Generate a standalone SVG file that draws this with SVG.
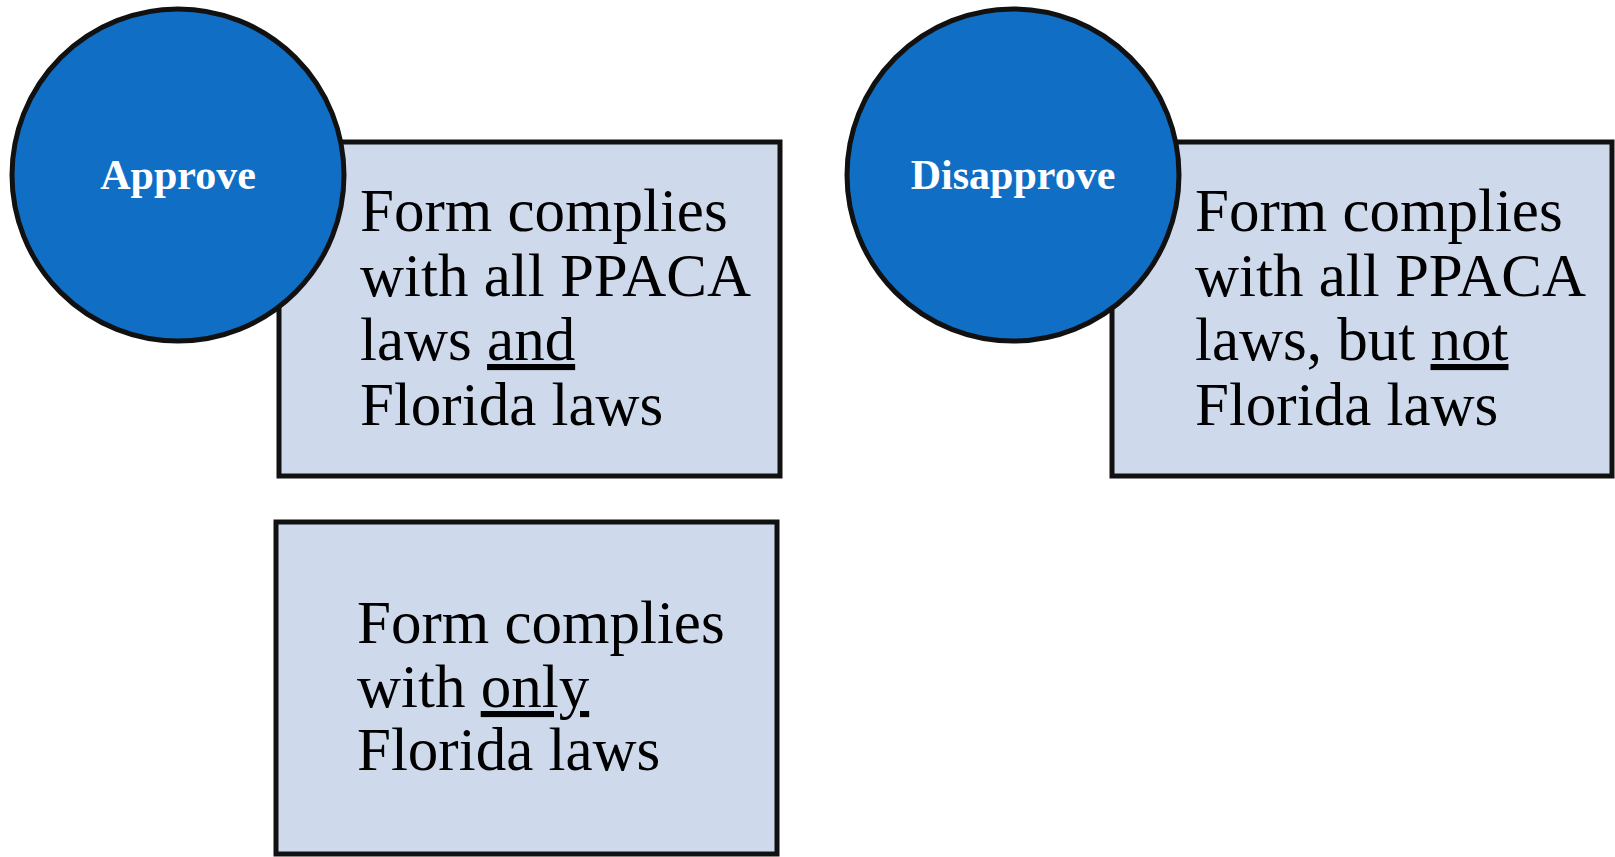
<svg xmlns="http://www.w3.org/2000/svg" width="1615" height="857" viewBox="0 0 1615 857">
<style>
.box{fill:#CFD9EC;stroke:#111;stroke-width:5;}
.circ{fill:#106EC5;stroke:#111;stroke-width:5;}
.lbl{font-family:"Liberation Serif","Times New Roman",serif;font-weight:bold;font-size:42px;fill:#fff;text-anchor:middle;}
.body{font-family:"Liberation Serif","Times New Roman",serif;font-size:61px;fill:#000;}
.u{text-decoration:underline;}
</style>
<rect width="1615" height="857" fill="#fff"/>
<g id="box-approve">
<rect class="box" x="279" y="142" width="501" height="334"/>
<text class="body" x="360" y="231">Form complies</text>
<text class="body" x="360" y="296">with all PPACA</text>
<text class="body" x="360" y="360">laws <tspan class="u">and</tspan></text>
<text class="body" x="360" y="425">Florida laws</text>
</g>
<g id="circle-approve">
<circle class="circ" cx="178" cy="175" r="166"/>
<text class="lbl" x="178" y="189">Approve</text>
</g>
<g id="box-disapprove">
<rect class="box" x="1112" y="142" width="500" height="334"/>
<text class="body" x="1195" y="231">Form complies</text>
<text class="body" x="1195" y="296">with all PPACA</text>
<text class="body" x="1195" y="360">laws, but <tspan class="u">not</tspan></text>
<text class="body" x="1195" y="425">Florida laws</text>
</g>
<g id="circle-disapprove">
<circle class="circ" cx="1013" cy="175" r="166"/>
<text class="lbl" x="1013" y="189">Disapprove</text>
</g>
<g id="box-only-florida">
<rect class="box" x="276" y="522" width="501" height="332"/>
<text class="body" x="357" y="643">Form complies</text>
<text class="body" x="357" y="707">with <tspan class="u">only</tspan></text>
<text class="body" x="357" y="770">Florida laws</text>
</g>
<g id="connectors"></g>
</svg>
